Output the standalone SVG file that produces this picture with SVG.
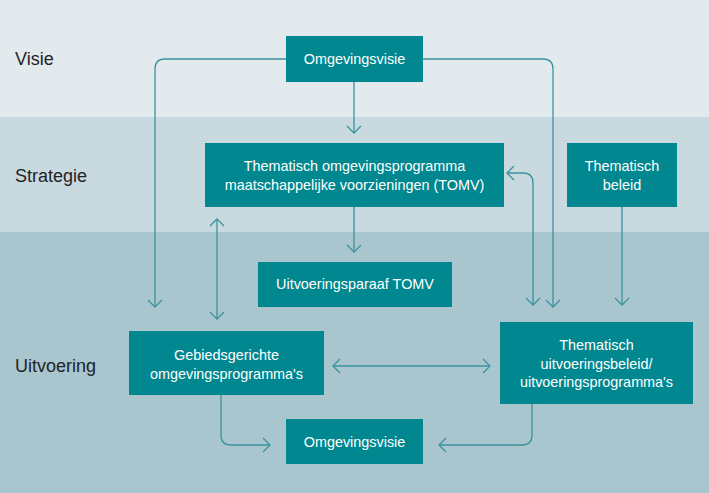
<svg xmlns="http://www.w3.org/2000/svg" width="709" height="493" viewBox="0 0 709 493">
<style>
.band-label{font-family:"Liberation Sans",Arial,sans-serif;font-size:18px;fill:#1f2326}
.box{fill:#00878f}
.t{font-family:"Liberation Sans",Arial,sans-serif;font-size:14.4px;fill:#ffffff;text-anchor:middle}
.c{fill:none;stroke:#3a939c;stroke-width:1.3}
</style>
<defs>
<marker id="ah" markerUnits="userSpaceOnUse" markerWidth="20" markerHeight="20" viewBox="-10 -10 20 20" refX="0" refY="0" orient="auto-start-reverse">
<path d="M-7,-7 L0,0 L-7,7" fill="none" stroke="#3a939c" stroke-width="1.3"/>
</marker>
</defs>
<g id="bands">
<rect x="0" y="0" width="709" height="117" fill="#e3eaee"/>
<rect x="0" y="117" width="709" height="115" fill="#c9d9e0"/>
<rect x="0" y="232" width="709" height="261" fill="#a9c6ce"/>
<text class="band-label" x="15" y="65">Visie</text>
<text class="band-label" x="15" y="182">Strategie</text>
<text class="band-label" x="15" y="372">Uitvoering</text>
</g>
<g id="connectors">
<path class="c" d="M286,59 H165 Q155,59 155,69 V307" marker-end="url(#ah)"/>
<path class="c" d="M423,59 H543 Q553,59 553,69 V307" marker-end="url(#ah)"/>
<path class="c" d="M354,82 V133" marker-end="url(#ah)"/>
<path class="c" d="M354,207 V252" marker-end="url(#ah)"/>
<path class="c" d="M217,219 V319" marker-start="url(#ah)" marker-end="url(#ah)"/>
<path class="c" d="M507,173 H523 Q533,173 533,183 V305" marker-start="url(#ah)" marker-end="url(#ah)"/>
<path class="c" d="M622,207 V305" marker-end="url(#ah)"/>
<path class="c" d="M333,366 H490" marker-start="url(#ah)" marker-end="url(#ah)"/>
<path class="c" d="M221,395 V435 Q221,445 231,445 H270" marker-end="url(#ah)"/>
<path class="c" d="M532,404 V435 Q532,445 522,445 H439" marker-end="url(#ah)"/>
</g>
<g id="omgevingsvisie-top">
<rect class="box" x="286" y="36" width="137" height="46"/>
<text class="t" x="354.5" y="64">Omgevingsvisie</text>
</g>
<g id="tomv">
<rect class="box" x="205" y="143" width="299" height="64"/>
<text class="t" x="354.5" y="170.5">Thematisch omgevingsprogramma</text>
<text class="t" x="354.5" y="190">maatschappelijke voorzieningen (TOMV)</text>
</g>
<g id="thematisch-beleid">
<rect class="box" x="567" y="143" width="110" height="64"/>
<text class="t" x="622" y="170.5">Thematisch</text>
<text class="t" x="622" y="189.5">beleid</text>
</g>
<g id="uitvoeringsparaaf">
<rect class="box" x="258" y="262" width="194" height="45"/>
<text class="t" x="355" y="289">Uitvoeringsparaaf TOMV</text>
</g>
<g id="gebiedsgerichte">
<rect class="box" x="129" y="331" width="195" height="64"/>
<text class="t" x="226.5" y="359.5">Gebiedsgerichte</text>
<text class="t" x="226.5" y="378.5">omgevingsprogramma's</text>
</g>
<g id="thematisch-uitvoeringsbeleid">
<rect class="box" x="500" y="322" width="193" height="82"/>
<text class="t" x="596.5" y="350">Thematisch</text>
<text class="t" x="596.5" y="368.5">uitvoeringsbeleid/</text>
<text class="t" x="596.5" y="387">uitvoeringsprogramma's</text>
</g>
<g id="omgevingsvisie-bottom">
<rect class="box" x="286" y="419" width="137" height="45"/>
<text class="t" x="354.5" y="446.5">Omgevingsvisie</text>
</g>
</svg>
